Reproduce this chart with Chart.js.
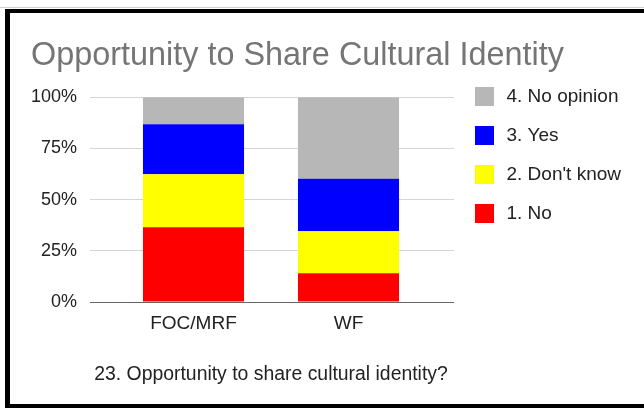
<!DOCTYPE html>
<html>
<head>
<meta charset="utf-8">
<title>Opportunity to Share Cultural Identity</title>
<script src="https://cdn.jsdelivr.net/npm/chart.js@4/dist/chart.umd.min.js"></script>
<style>
    html, body { margin: 0; padding: 0; background: #fff; }
    #wrap { position: relative; width: 644px; height: 408px; overflow: hidden; }
    #topline { position: absolute; left: 0; top: 7px; width: 644px; height: 1px; background: #cfcfcf; }
    #frame {
        position: absolute; left: 5px; top: 9px; width: 650px; height: 399px;
        box-sizing: border-box;
        border-left: 5px solid #000; border-top: 4px solid #000; border-bottom: 4px solid #000;
    }
    #box { position: absolute; left: 0; top: 0; width: 644px; height: 408px; }
</style>
</head>
<body>
<div id="wrap">
    <div id="topline"></div>
    <div id="frame"></div>
    <div id="box"><canvas id="myChart"></canvas></div>
</div>
<script>
// values in percent of respondents
const groups = ["FOC/MRF", "WF"]
const answers = ["1. No", "2. Don't know", "3. Yes", "4. No opinion"]
const noValues = [36.5, 14.1]
const dontKnowValues = [25.9, 20.5]
const yesValues = [24.4, 25.6]
const noOpinionValues = [13.2, 39.8]
const answerColors = ["#ff0000", "#ffff00", "#0000ff", "#b7b7b7"]
const yTicks = [0, 25, 50, 75, 100]
const chartTitle = "Opportunity to Share Cultural Identity"
const axisCaption = "23. Opportunity to share cultural identity?"

const fontFamily = "'Liberation Sans', Arial, sans-serif"
Chart.defaults.font.family = fontFamily

function gridColor(ctx) {
    return (ctx.tick && ctx.tick.value === 0) ? "#666666" : "#d4d4d4"
}

// the x axis title in chart.js gets squeezed to the plot width,
// so the caption is written under the axis here instead
const captionPlugin = {
    id: "caption",
    afterDraw(chart, args, opts) {
        let xs = chart.scales.x
        let ctx = chart.ctx
        ctx.save()
        ctx.font = opts.size + "px " + fontFamily
        ctx.fillStyle = opts.color
        ctx.textAlign = "center"
        ctx.textBaseline = "middle"
        ctx.fillText(opts.text, (xs.left + xs.right) / 2, xs.bottom - opts.offset)
        ctx.restore()
    }
}

function createChart() {
    let htmlChart = document.getElementById("myChart")
    let values = [noValues, dontKnowValues, yesValues, noOpinionValues]

    new Chart(htmlChart, {
        type: "bar",
        plugins: [captionPlugin],
        data: {
            labels: groups,
            datasets: answers.map(function (name, i) {
                return {
                    label: name,
                    data: values[i],
                    backgroundColor: answerColors[i],
                    borderWidth: 0,
                    categoryPercentage: 1,
                    barPercentage: 0.652
                }
            })
        },
        options: {
            responsive: true,
            maintainAspectRatio: false,
            animation: false,
            layout: {
                padding: { top: 20, left: 31, right: 16, bottom: 19 }
            },
            plugins: {
                tooltip: { enabled: false },
                caption: {
                    text: axisCaption,
                    color: "#222222",
                    size: 19.4,
                    offset: 14.5
                },
                title: {
                    display: true,
                    text: chartTitle,
                    align: "start",
                    color: "#757575",
                    font: { size: 32.4, weight: "normal" },
                    padding: { top: 17, bottom: 21.4 }
                },
                legend: {
                    display: true,
                    position: "right",
                    align: "start",
                    reverse: true,
                    maxWidth: 170,
                    title: {
                        display: true,
                        text: "",
                        font: { size: 10, lineHeight: 1 },
                        padding: { top: 40, bottom: 0 }
                    },
                    labels: {
                        boxWidth: 25,
                        boxHeight: 25,
                        padding: 14,
                        color: "#222222",
                        font: { size: 19, lineHeight: 1 },
                        generateLabels: function (chart) {
                            let items = Chart.defaults.plugins.legend.labels.generateLabels(chart)
                            // white outline so the coloured square shows 19px wide
                            items.forEach(function (it) {
                                it.lineWidth = 6
                                it.strokeStyle = "#ffffff"
                            })
                            return items
                        }
                    }
                }
            },
            scales: {
                x: {
                    stacked: true,
                    afterFit: function (scale) { scale.height = 87 },
                    grid: { display: false, drawTicks: false },
                    border: { display: false },
                    ticks: {
                        color: "#222222",
                        font: { size: 19 },
                        padding: 10
                    }
                },
                y: {
                    stacked: true,
                    min: yTicks[0],
                    max: yTicks[yTicks.length - 1],
                    afterFit: function (scale) { scale.width = 85 },
                    border: { display: false },
                    grid: {
                        color: gridColor,
                        drawTicks: true,
                        tickLength: 26
                    },
                    ticks: {
                        stepSize: yTicks[1] - yTicks[0],
                        color: "#222222",
                        font: { size: 18 },
                        padding: 13,
                        callback: function (v) { return v + "%" }
                    }
                },
                y2: {
                    position: "right",
                    min: yTicks[0],
                    max: yTicks[yTicks.length - 1],
                    afterFit: function (scale) { scale.width = 32 },
                    border: { display: false },
                    grid: {
                        color: gridColor,
                        drawOnChartArea: false,
                        drawTicks: true,
                        tickLength: 28
                    },
                    ticks: {
                        display: false,
                        stepSize: yTicks[1] - yTicks[0]
                    }
                }
            }
        }
    })
}

createChart()
</script>
</body>
</html>
